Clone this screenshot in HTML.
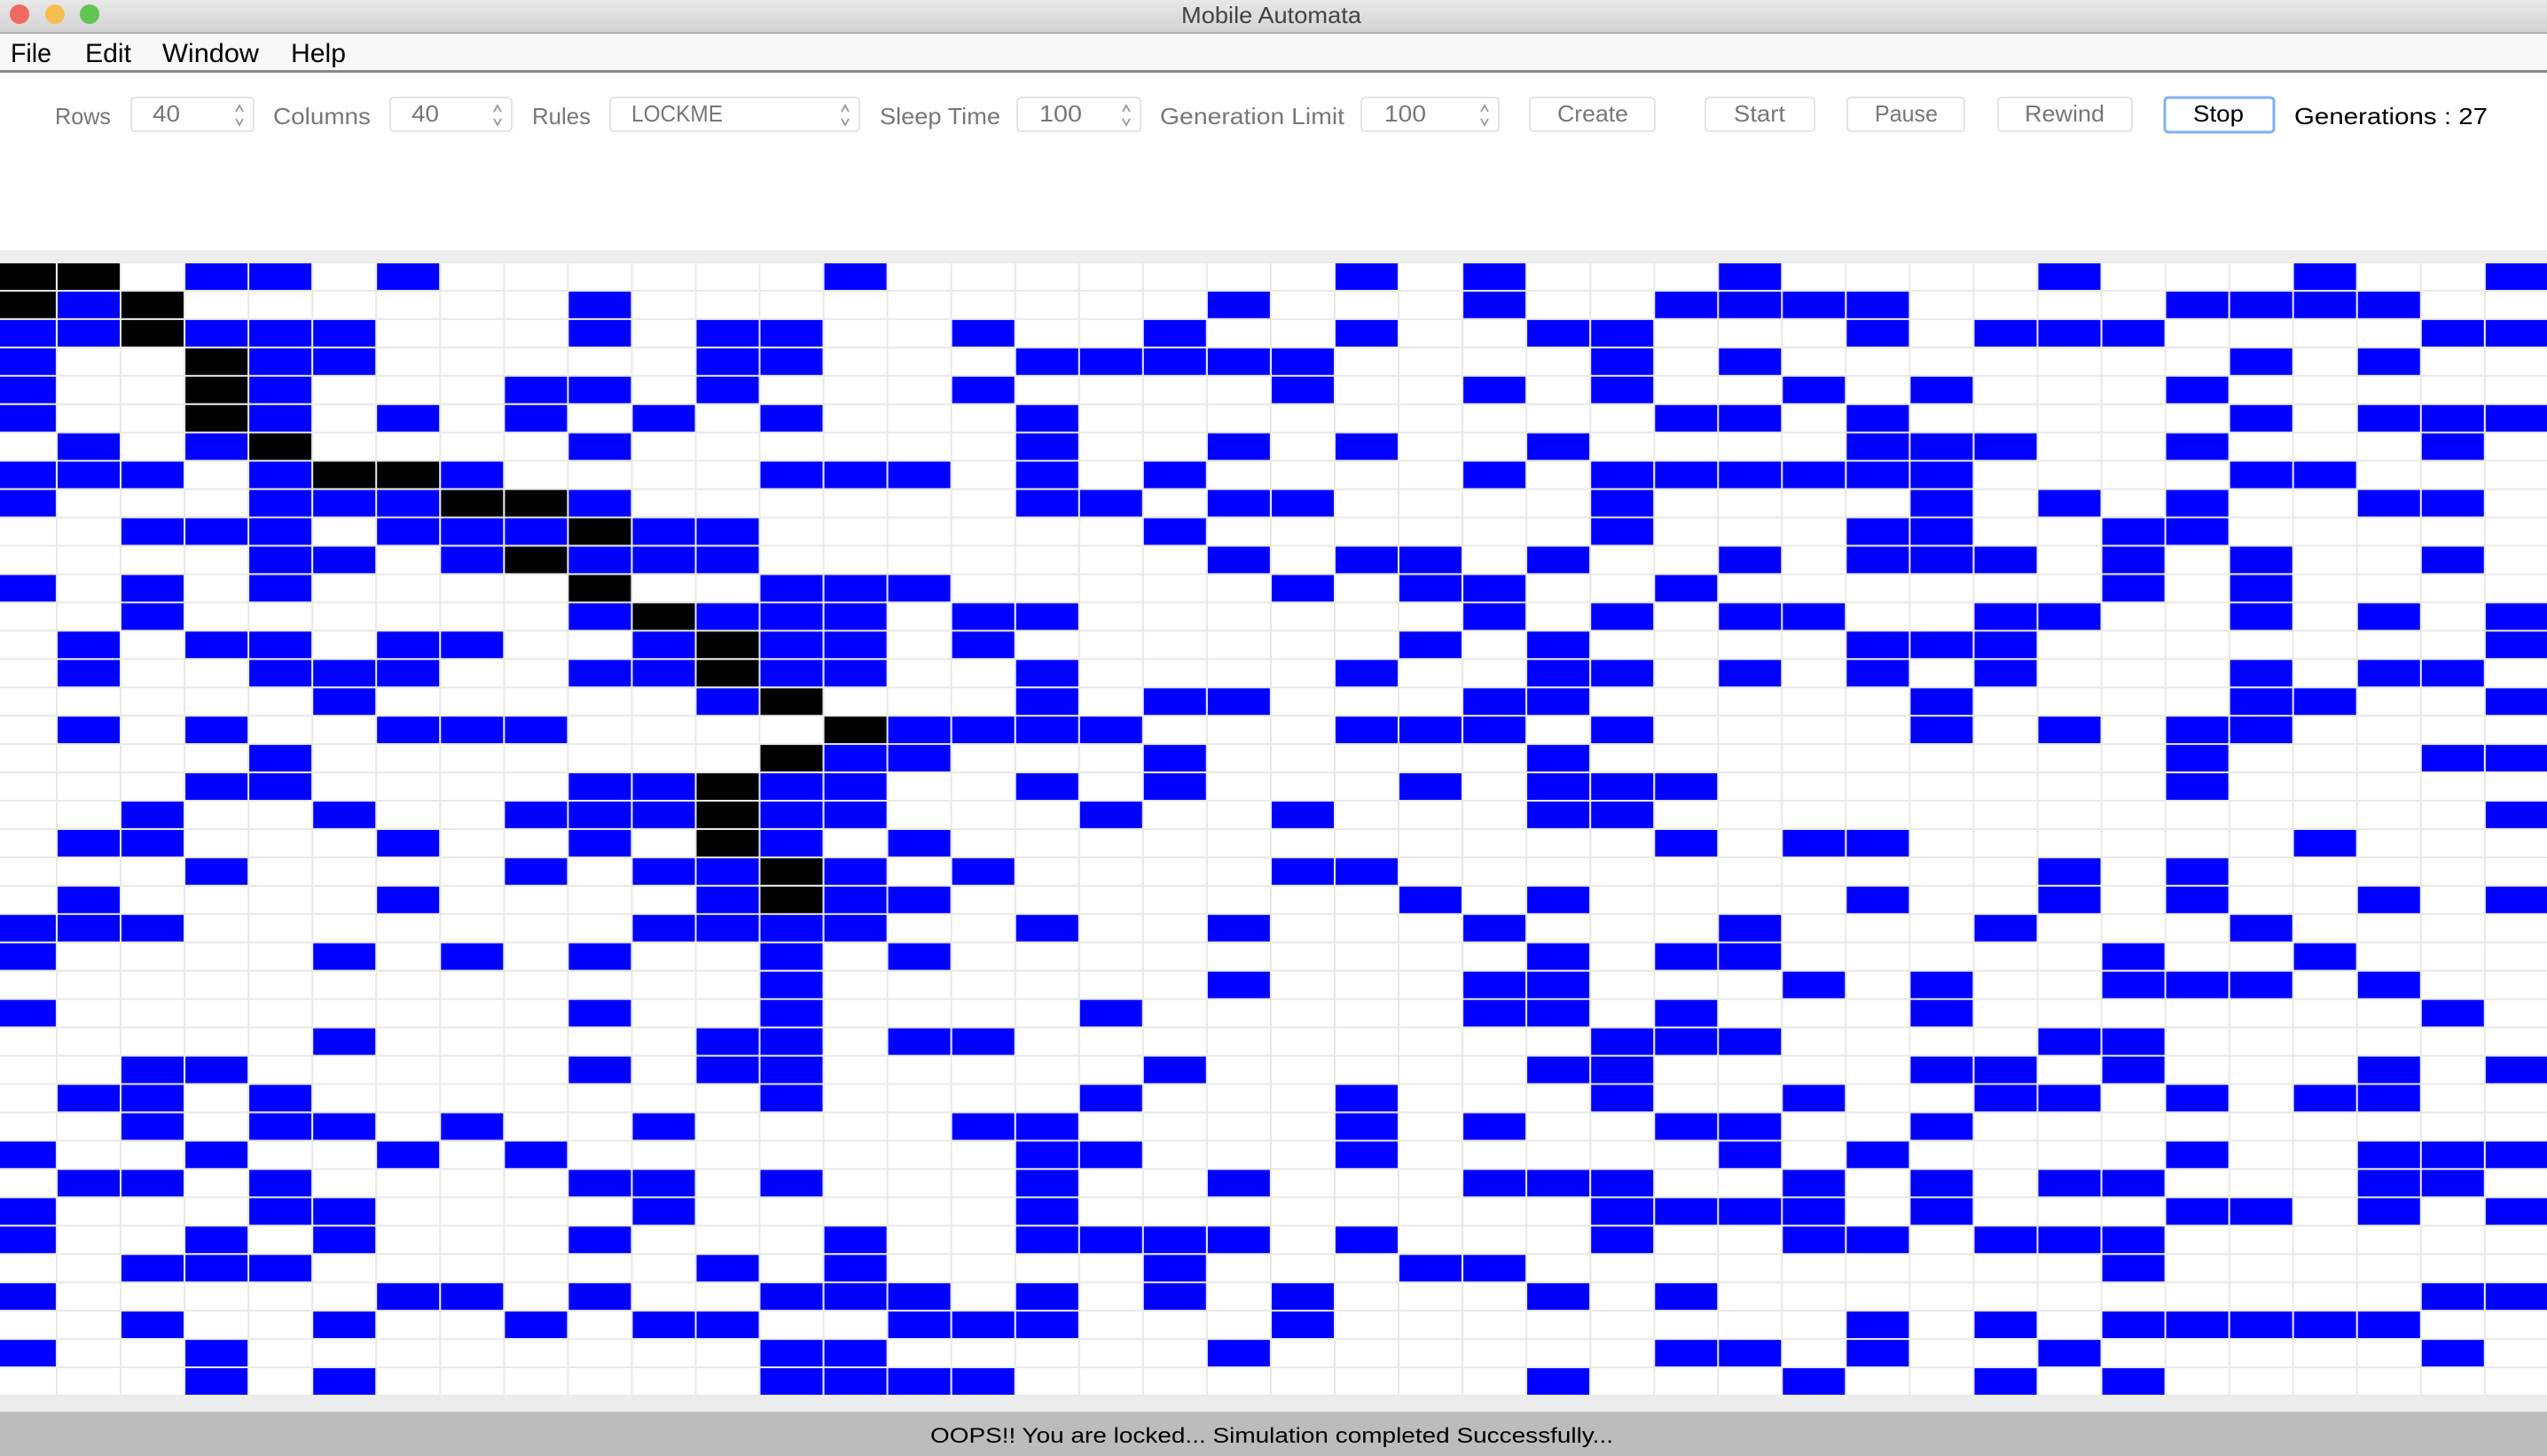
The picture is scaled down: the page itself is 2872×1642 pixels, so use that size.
<!DOCTYPE html>
<html><head><meta charset="utf-8"><style>
html,body{margin:0;padding:0;background:#fff;overflow:hidden}
svg{display:block}
text{font-family:"Liberation Sans",sans-serif}
</style></head><body>
<svg id="s" width="2872" height="1642" viewBox="0 0 2872 1642" xmlns="http://www.w3.org/2000/svg">
<defs><linearGradient id="tb" x1="0" y1="0" x2="0" y2="1"><stop offset="0" stop-color="#e8e8e8"/><stop offset="1" stop-color="#d2d2d2"/></linearGradient></defs>
<rect x="0" y="0" width="2872" height="37" fill="url(#tb)"/>
<rect x="0" y="36" width="2872" height="2" fill="#b0b0b0"/>
<circle cx="22" cy="16" r="11" fill="#ee6a5f"/><circle cx="62" cy="16" r="11" fill="#f5bf4f"/><circle cx="101" cy="16" r="11" fill="#61c454"/>
<text x="1332" y="26" font-size="26" fill="#444" textLength="203" lengthAdjust="spacingAndGlyphs">Mobile Automata</text>
<rect x="0" y="38" width="2872" height="42" fill="#f8f8f8"/>
<rect x="0" y="79" width="2872" height="3" fill="#888"/>
<g font-size="30" fill="#000">
<text x="12" y="70" textLength="46" lengthAdjust="spacingAndGlyphs">File</text>
<text x="96" y="70" textLength="52" lengthAdjust="spacingAndGlyphs">Edit</text>
<text x="183" y="70" textLength="109" lengthAdjust="spacingAndGlyphs">Window</text>
<text x="328" y="70" textLength="62" lengthAdjust="spacingAndGlyphs">Help</text>
</g>
<g fill="#fff" stroke="#dcdcdc" stroke-width="1.5">
<rect x="148" y="110" width="138" height="38" rx="4"/>
<rect x="440" y="110" width="137" height="38" rx="4"/>
<rect x="688" y="110" width="281" height="38" rx="4"/>
<rect x="1147" y="110" width="139" height="38" rx="4"/>
<rect x="1535" y="110" width="155" height="38" rx="4"/>
<rect x="1725" y="110" width="141" height="38" rx="4"/>
<rect x="1923" y="110" width="123" height="38" rx="4"/>
<rect x="2083" y="110" width="132" height="38" rx="4"/>
<rect x="2253" y="110" width="151" height="38" rx="4"/>
</g>
<rect x="2441" y="110" width="123" height="39" rx="4" fill="#fff" stroke="#7fb2ee" stroke-width="3"/>
<g fill="none" stroke="#999" stroke-width="1.8">
<path d="M266 126 l4 -7 l4 7 M266 134 l4 7 l4 -7"/>
<path d="M557 126 l4 -7 l4 7 M557 134 l4 7 l4 -7"/>
<path d="M949 126 l4 -7 l4 7 M949 134 l4 7 l4 -7"/>
<path d="M1266 126 l4 -7 l4 7 M1266 134 l4 7 l4 -7"/>
<path d="M1670 126 l4 -7 l4 7 M1670 134 l4 7 l4 -7"/>
</g>
<g font-size="26" fill="#777">
<text x="62" y="140" textLength="63" lengthAdjust="spacingAndGlyphs">Rows</text>
<text x="308" y="140" textLength="110" lengthAdjust="spacingAndGlyphs">Columns</text>
<text x="600" y="140" textLength="66" lengthAdjust="spacingAndGlyphs">Rules</text>
<text x="992" y="140" textLength="136" lengthAdjust="spacingAndGlyphs">Sleep Time</text>
<text x="1308" y="140" textLength="208" lengthAdjust="spacingAndGlyphs">Generation Limit</text>
<text x="172" y="137" textLength="31" lengthAdjust="spacingAndGlyphs">40</text>
<text x="464" y="137" textLength="31" lengthAdjust="spacingAndGlyphs">40</text>
<text x="712" y="137" textLength="103" lengthAdjust="spacingAndGlyphs">LOCKME</text>
<text x="1172" y="137" textLength="48" lengthAdjust="spacingAndGlyphs">100</text>
<text x="1561" y="137" textLength="47" lengthAdjust="spacingAndGlyphs">100</text>
<text x="1756" y="137" textLength="80" lengthAdjust="spacingAndGlyphs">Create</text>
<text x="1955" y="137" textLength="58" lengthAdjust="spacingAndGlyphs">Start</text>
<text x="2114" y="137" textLength="71" lengthAdjust="spacingAndGlyphs">Pause</text>
<text x="2283" y="137" textLength="90" lengthAdjust="spacingAndGlyphs">Rewind</text>
</g>
<text x="2473" y="137" font-size="26" fill="#000" textLength="57" lengthAdjust="spacingAndGlyphs">Stop</text>
<text x="2587" y="140" font-size="26" fill="#000" textLength="218" lengthAdjust="spacingAndGlyphs">Generations :  27</text>
<rect x="0" y="282" width="2872" height="14" fill="#eeeeee"/>
<g id="grid"></g>
<rect x="0" y="1574" width="2872" height="18" fill="#ececec"/>
<rect x="0" y="1592" width="2872" height="50" fill="#bcbcbc"/>
<text x="1049" y="1627" font-size="24" fill="#000" textLength="770" lengthAdjust="spacingAndGlyphs">OOPS!! You are locked... Simulation completed Successfully...</text>
</svg>
<script>
var L=[
"KK.BB.B......B.......B.B...B....B...B..B",
"KBK......B.........B...B..BBBB....BBBB..",
"BBKBBB...B.BB..B..B..B..BB...B.BBB....BB",
"B..KBB.....BB...BBBBB....B.B.......B.B..",
"B..KB...BB.B...B....B..B.B..B.B...B.....",
"B..KB.B.B.B.B...B.........BB.B.....B.BBB",
".B.BK....B......B..B.B..B....BBB..B...B.",
"BBB.BKKB....BBB.B.B....B.BBBBBB....BB...",
"B...BBBKKB......BB.BB....B....B.B.B..BB.",
"..BBB.BBBKBB......B......B...BB..BB.....",
"....BB.BKBBB.......B.BB.B..B.BBB.B.B..B.",
"B.B.B....K..BBB.....B.BB..B......B.B....",
"..B......BKBBB.BB......B.B.BB..BB..B.B.B",
".B.BB.BB..BKBB.B......B.B....BBB.......B",
".B..BBB..BBKBB..B....B..BB.B.B.B...B.BB.",
".....B.....BK...B.BB...BB.....B....BB..B",
".B.B..BBB....KBBBB...BBB.B....B.B.BB....",
"....B.......KBB...B.....B.........B...BB",
"...BB....BBKBB..B.B...B.BBB.......B.....",
"..B..B..BBBKBB...B..B...BB.............B",
".BB...B..B.KB.B...........B.BB......B...",
"...B....B.BBKB.B....BB..........B.B.....",
".B....B....BKBB.......B.B....B..B.B..B.B",
"BBB.......BBBB..B..B...B...B...B...B....",
"B....B.B.B..B.B.........B.BB.....B..B...",
"............B......B...BB...B.B..BBB.B..",
"B........B..B....B.....BB.B...B.......B.",
".....B.....BB.BB.........BBB....BB......",
"..BB.....B.BB.....B.....BB....BB.B...B.B",
".BB.B.......B....B...B...B..B..BB.B.BB..",
"..B.BB.B..B....BB....B.B..BB..B.........",
"B..B..B.B.......BB...B.....B.B....B..BBB",
".BB.B....BB.B...B..B...BBB..B.B.BB...BB.",
"B...BB....B.....B........BBBB.B...BB.B.B",
"B..B.B...B...B..BBBB.B...B..BB.BBB......",
"..BBB......B.B....B...BB.........B......",
"B.....BB.B..BBB.B.B.B...B.B...........BB",
"..B..B..B.BB..BBB...B........B.B.BBBBB..",
"B..B........BB.....B......BB.B..B.....B.",
"...B.B......BBBB........B...B..B.B......"
];
var g=document.getElementById("grid"),cw=72.05,rh=31.95,x0=-8.05,y0=296,h='';
h+='<rect x="0" y="296" width="2872" height="1278" fill="#fff"/>';
for(var c=0;c<=40;c++){h+='<rect x="'+(x0+c*cw-1).toFixed(1)+'" y="296" width="2" height="1278" fill="#e8e8e8"/>';}
for(var r=0;r<=40;r++){h+='<rect x="0" y="'+(y0+r*rh-1).toFixed(1)+'" width="2872" height="2" fill="#e8e8e8"/>';}
for(var r=0;r<40;r++)for(var c=0;c<40;c++){var ch=L[r][c];if(ch==='B'||ch==='K'){h+='<rect x="'+(x0+c*cw+1).toFixed(1)+'" y="'+(y0+r*rh+1).toFixed(1)+'" width="'+(cw-2).toFixed(1)+'" height="'+(rh-2).toFixed(1)+'" fill="'+(ch==='B'?'#0000ff':'#000')+'"/>';}}
g.innerHTML=h;
</script>
</body></html>
